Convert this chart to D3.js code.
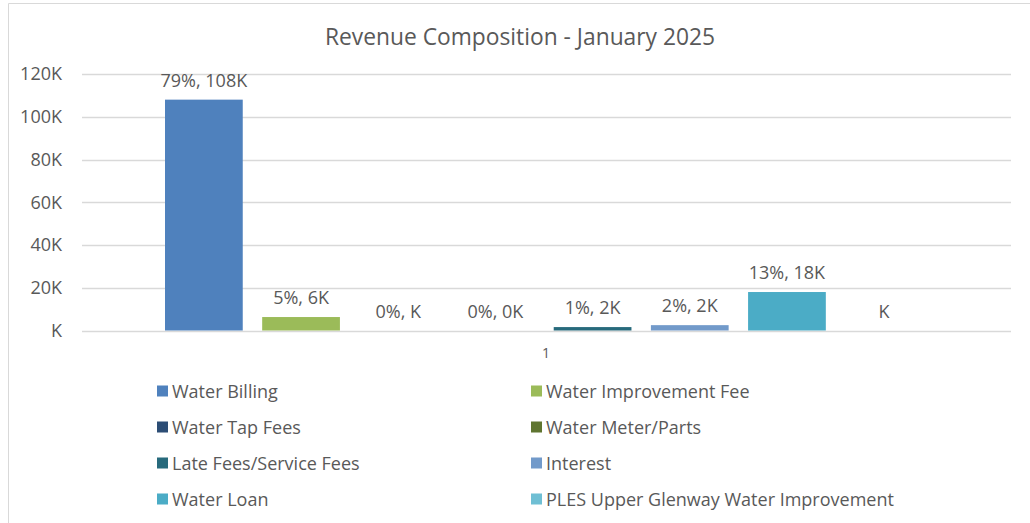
<!DOCTYPE html>
<html>
<head>
<meta charset="utf-8">
<script src="https://cdn.jsdelivr.net/npm/d3@7"></script>
<style>
  body { margin: 0; background: #fff; }
  text { font-family: "Open Sans", "Noto Sans", sans-serif; fill: #595959; }
</style>
</head>
<body>
<div id="chart"></div>
<script>
// revenue items, January 2025
var series = ["Water Billing", "Water Improvement Fee", "Water Tap Fees", "Water Meter/Parts",
              "Late Fees/Service Fees", "Interest", "Water Loan", "PLES Upper Glenway Water Improvement"];
var values = [108000, 6300, 0, 0, 1600, 2500, 18000, null];
var labels = ["79%, 108K", "5%, 6K", "0%, K", "0%, 0K", "1%, 2K", "2%, 2K", "13%, 18K", "K"];
var colors = ["#4f81bd", "#9bbb59", "#2c4d75", "#5f7530", "#276a7c", "#729aca", "#4bacc6", "#6fbfd4"];
var yTicks = [0, 20000, 40000, 60000, 80000, 100000, 120000];
var category = "1";

function revenueChart(node) {
  var W = 1030, H = 523;
  var plot = {left: 82, right: 1011, top: 74, bottom: 330.5};

  var svg = node.append("svg")
    .attr("width", W)
    .attr("height", H);

  // chart area border
  svg.append("path")
    .attr("d", "M8.5," + H + "V3.5H" + W)
    .attr("fill", "none")
    .attr("stroke", "#d9d9d9");

  svg.append("text")
    .attr("x", 520).attr("y", 45)
    .attr("text-anchor", "middle")
    .style("font-size", "22.8px")
    .text("Revenue Composition - January 2025");

  var y = d3.scaleLinear()
    .domain([0, 120000])
    .range([plot.bottom, plot.top]);

  var x = d3.scaleBand()
    .domain(series)
    .range([165, 923])
    .paddingInner(0.2)
    .paddingOuter(0);

  // gridlines
  svg.append("g")
    .selectAll("line")
    .data(yTicks)
    .join("line")
    .attr("x1", plot.left).attr("x2", plot.right)
    .attr("y1", d => Math.round(y(d)) + 0.5)
    .attr("y2", d => Math.round(y(d)) + 0.5)
    .attr("stroke", "#d9d9d9")
    .attr("stroke-width", 1.3);

  var yAxis = svg.append("g")
    .attr("transform", "translate(" + 62 + ",0)")
    .call(d3.axisLeft(y).tickValues(yTicks).tickSize(0).tickPadding(0)
      .tickFormat(d => (d === 0 ? "" : d / 1000) + "K"));
  yAxis.select(".domain").remove();
  yAxis.selectAll("text")
    .style("font-size", "18px")
    .style("font-family", null)
    .attr("fill", null);

  svg.append("g")
    .selectAll("rect")
    .data(series)
    .join("rect")
    .attr("x", d => x(d))
    .attr("width", x.bandwidth())
    .attr("y", (d, i) => y(values[i] || 0))
    .attr("height", (d, i) => y(0) - y(values[i] || 0))
    .attr("fill", (d, i) => colors[i]);

  svg.append("g")
    .selectAll("text")
    .data(series)
    .join("text")
    .attr("x", d => x(d) + x.bandwidth() / 2)
    .attr("y", (d, i) => y(values[i] || 0) - 13)
    .attr("text-anchor", "middle")
    .style("font-size", "18px")
    .text((d, i) => labels[i]);

  svg.append("text")
    .attr("x", 546).attr("y", 358)
    .attr("text-anchor", "middle")
    .style("font-size", "14px")
    .text(category);

  // legend, two columns
  var legend = svg.append("g")
    .selectAll("g")
    .data(series)
    .join("g")
    .attr("transform", (d, i) => "translate(" + (i % 2 ? 531 : 157) + "," + (391 + Math.floor(i / 2) * 36) + ")");
  legend.append("rect")
    .attr("x", 0).attr("y", -5.5)
    .attr("width", 11).attr("height", 11)
    .attr("fill", (d, i) => colors[i]);
  legend.append("text")
    .attr("x", 15).attr("y", 6.5)
    .style("font-size", "18px")
    .text(d => d);
}

revenueChart(d3.select("#chart"));
</script>
</body>
</html>
